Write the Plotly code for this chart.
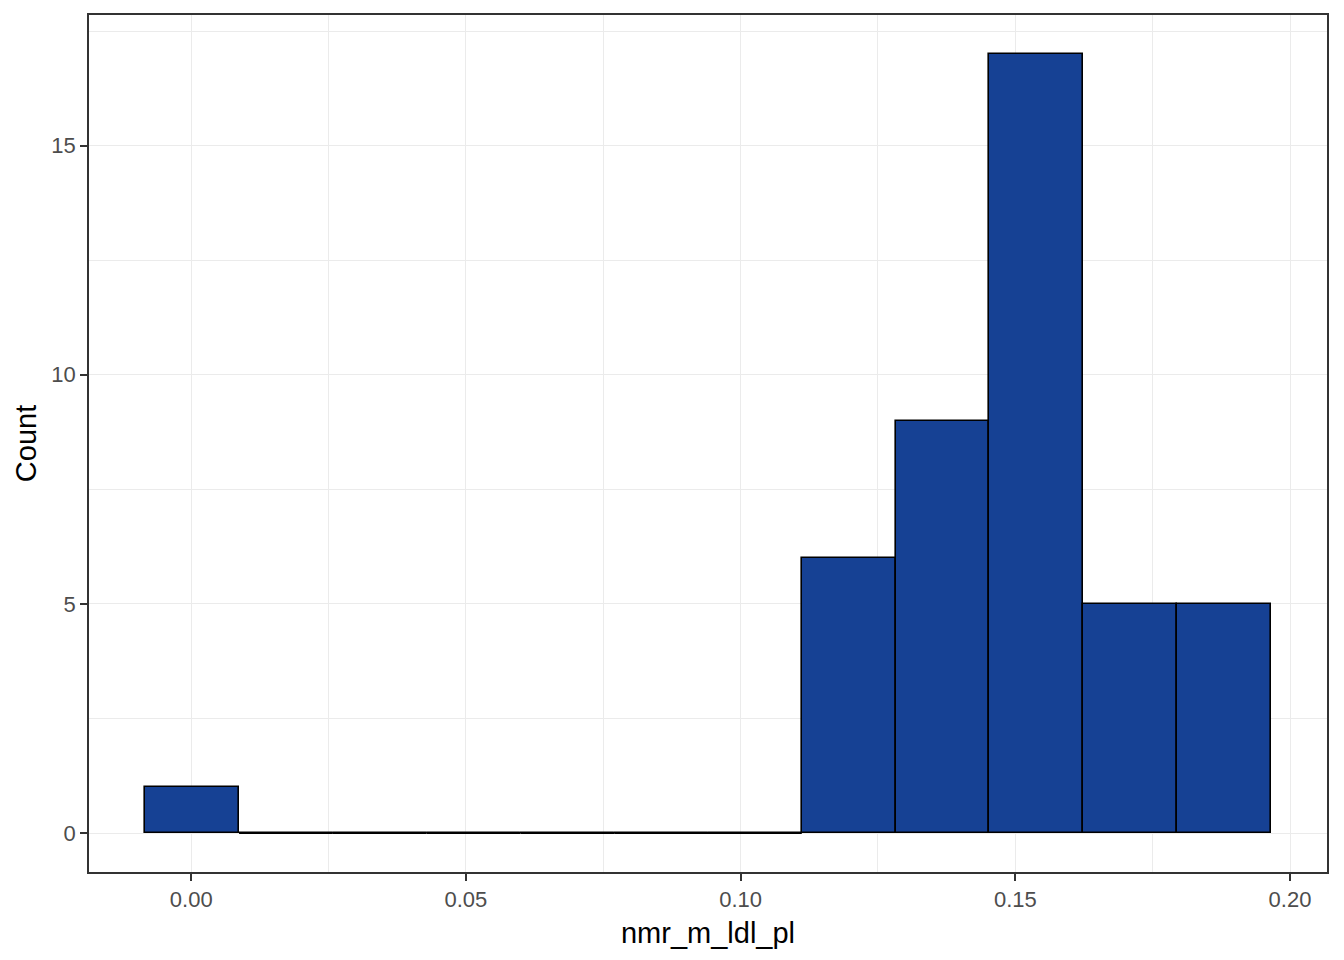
import numpy as np
import plotly.graph_objects as go

# Histogram data
bin_start = -0.00836
bin_width = 0.017071
counts = [1, 0, 0, 0, 0, 0, 0, 6, 9, 17, 5, 5]

x_ticks = [0.00, 0.05, 0.10, 0.15, 0.20]
x_tick_labels = ["0.00", "0.05", "0.10", "0.15", "0.20"]
y_ticks = [0, 5, 10, 15]

edges = [bin_start + i * bin_width for i in range(len(counts) + 1)]
centers = [(edges[i] + edges[i + 1]) / 2 for i in range(len(counts))]

fig = go.Figure()
fig.add_trace(go.Bar(
    x=centers, y=counts, width=[bin_width] * len(counts),
    marker=dict(color="#164194", line=dict(color="black", width=1.6)),
    hoverinfo="x+y", showlegend=False,
))

# zero-count bins drawn as flat outline at y=0
zero_x = []
for i, c in enumerate(counts):
    if c == 0:
        zero_x += [edges[i], edges[i + 1], None]
fig.add_trace(go.Scatter(
    x=zero_x, y=[0 if v is not None else None for v in zero_x],
    mode="lines", line=dict(color="black", width=2),
    showlegend=False, hoverinfo="skip", connectgaps=False,
))

xmin, xmax = edges[0], edges[-1]
xpad = (xmax - xmin) * 0.05
ymax = max(counts)
ypad = ymax * 0.05

TICK_FONT = dict(family="Liberation Sans, Arial, sans-serif", size=22, color="#4D4D4D")
TITLE_FONT = dict(family="Liberation Sans, Arial, sans-serif", size=29, color="black")

fig.update_layout(
    width=1336, height=952,
    margin=dict(l=81, r=17, t=7, b=88, autoexpand=False),
    plot_bgcolor="white", paper_bgcolor="white",
    font=dict(family="Liberation Sans, Arial, sans-serif", size=22, color="#4D4D4D"),
    bargap=0,
)
fig.update_xaxes(
    automargin=False,
    range=[xmin - xpad, xmax + xpad],
    tickvals=x_ticks, ticktext=x_tick_labels,
    showgrid=True, gridcolor="#EBEBEB", gridwidth=1.3,
    minor=dict(dtick=0.025, tick0=0.025, showgrid=True, gridcolor="#EBEBEB", gridwidth=0.7, ticks=""),
    ticks="outside", ticklen=7, tickcolor="#333333", tickwidth=1.5,
    showline=True, linecolor="#333333", linewidth=1.6, mirror=True,
    zeroline=False,
    title=dict(text="nmr_m_ldl_pl", font=TITLE_FONT, standoff=11),
    tickfont=TICK_FONT,
)
fig.update_yaxes(
    automargin=False,
    range=[-ypad, ymax + ypad],
    tickvals=y_ticks,
    showgrid=True, gridcolor="#EBEBEB", gridwidth=1.3,
    minor=dict(dtick=2.5, tick0=2.5, showgrid=True, gridcolor="#EBEBEB", gridwidth=0.7, ticks=""),
    ticks="outside", ticklen=7, tickcolor="#333333", tickwidth=1.5,
    showline=True, linecolor="#333333", linewidth=1.6, mirror=True,
    zeroline=False,
    title=dict(text="Count", font=TITLE_FONT, standoff=6),
    tickfont=TICK_FONT,
)

fig.write_html("out.html")
